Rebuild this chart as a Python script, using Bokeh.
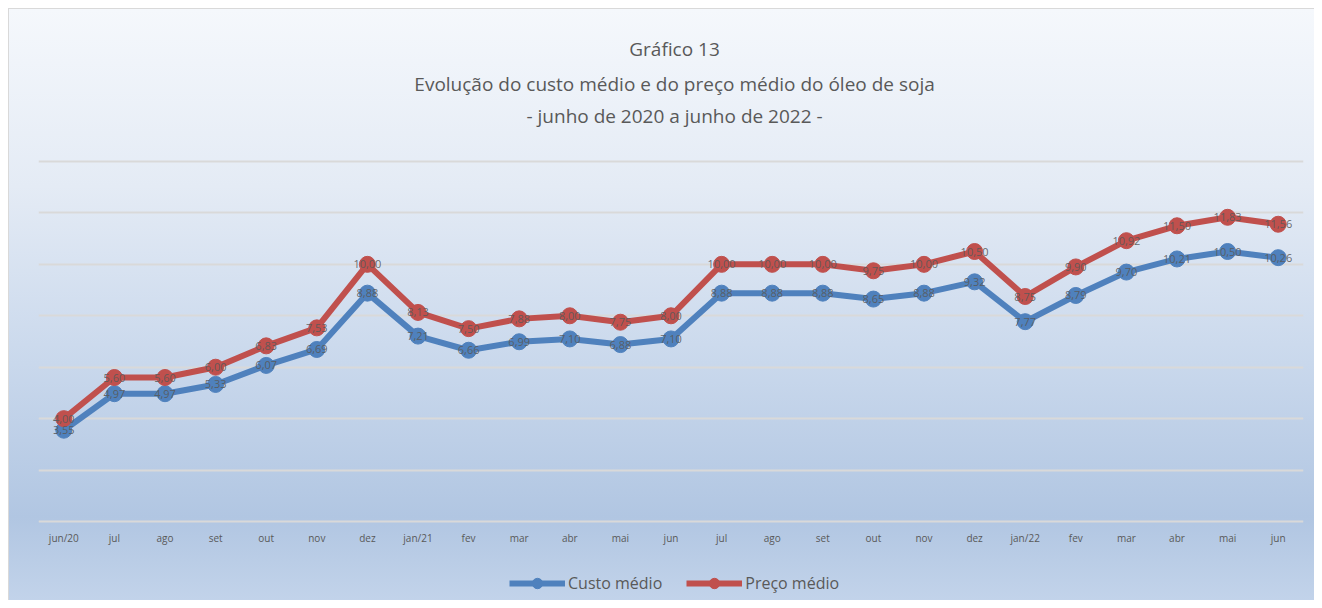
from bokeh.plotting import figure
from bokeh.models import (Range1d, FixedTicker, Legend, LegendItem, Label,
                          ColumnDataSource, InlineStyleSheet)
from bokeh.core.properties import value
from bokeh.embed import file_html
from bokeh.resources import INLINE

months = ["jun/20", "jul", "ago", "set", "out", "nov", "dez", "jan/21", "fev", "mar",
          "abr", "mai", "jun", "jul", "ago", "set", "out", "nov", "dez", "jan/22",
          "fev", "mar", "abr", "mai", "jun"]
custo = [3.55, 4.97, 4.97, 5.33, 6.07, 6.69, 8.88, 7.21, 6.66, 6.99, 7.10, 6.88, 7.10,
         8.88, 8.88, 8.88, 8.65, 8.88, 9.32, 7.77, 8.79, 9.70, 10.21, 10.50, 10.26]
preco = [4.00, 5.60, 5.60, 6.00, 6.83, 7.53, 10.00, 8.13, 7.50, 7.88, 8.00, 7.75, 8.00,
         10.00, 10.00, 10.00, 9.75, 10.00, 10.50, 8.75, 9.90, 10.92, 11.50, 11.83, 11.56]
y_ticks = [0, 2, 4, 6, 8, 10, 12, 14]
title_lines = ["Gráfico 13",
               "Evolução do custo médio e do preço médio do óleo de soja",
               "- junho de 2020 a junho de 2022 -"]

FONT = "Open Sans"
TXT = "#595959"
BLUE = "#4f81bd"
RED = "#c0504d"

xs = list(range(len(months)))

def fmt(v):
    return f"{v:.2f}".replace(".", ",")

src_c = ColumnDataSource(dict(x=xs, y=custo, lab=[fmt(v) for v in custo]))
src_p = ColumnDataSource(dict(x=xs, y=preco, lab=[fmt(v) for v in preco]))

W, H = 1314, 600
# plot area: y=0 at pixel 521, y=14 at pixel 161 (frame spans full height)
k = (521 - 161) / 14.0
y_lo = -(H - 521) / k
y_hi = 14 + 161 / k
ypix = lambda py: (521 - py) / k

p = figure(width=W, height=H, output_backend="svg", toolbar_location=None,
           x_range=Range1d(-0.5, len(months) - 0.5), y_range=Range1d(y_lo, y_hi),
           min_border_left=38, min_border_right=11, min_border_top=0,
           min_border_bottom=0)

css = """
:host {
  background:
    linear-gradient(to bottom, #f5f8fc 0%, #e4ebf5 30%, #c9d8ec 60%, #b1c6e2 86%, #c2d3ea 100%) 9px 9px / calc(100% - 9px) calc(100% - 9px) no-repeat,
    linear-gradient(#d9d9d9, #d9d9d9) 8px 8px / calc(100% - 8px) calc(100% - 8px) no-repeat,
    #ffffff;
}
"""
p.stylesheets = [InlineStyleSheet(css=css)]
p.border_fill_alpha = 0
p.background_fill_alpha = 0
p.outline_line_color = None

p.xaxis.visible = False
p.yaxis.visible = False
p.yaxis.ticker = FixedTicker(ticks=y_ticks)
p.ygrid.grid_line_color = "#d9d9d9"
p.ygrid.grid_line_width = 2
p.xgrid.visible = False

# category labels under the axis
p.text(xs, [ypix(537)] * len(xs), text=months, text_align="center",
       text_baseline="middle", text_font=value(FONT), text_font_size="10px",
       text_color=TXT)

# series
lc = p.line("x", "y", source=src_c, line_color=BLUE, line_width=6, line_join="round")
mc = p.scatter("x", "y", source=src_c, size=16, fill_color=BLUE, line_color=BLUE)
lp = p.line("x", "y", source=src_p, line_color=RED, line_width=6, line_join="round")
mp = p.scatter("x", "y", source=src_p, size=16, fill_color=RED, line_color=RED)

for src in (src_c, src_p):
    p.text("x", "y", text="lab", source=src, text_align="center",
           text_baseline="middle", text_font=value(FONT), text_font_size="11px",
           text_color=TXT, text_alpha=0.9)

# titles
for t, py in zip(title_lines, [48, 83, 115]):
    p.add_layout(Label(x=12.07, y=ypix(py), text=t, text_align="center",
                       text_baseline="middle", text_font=FONT,
                       text_font_size="19px", text_color=TXT))

legend = Legend(items=[LegendItem(label="Custo médio", renderers=[lc, mc]),
                       LegendItem(label="Preço médio", renderers=[lp, mp])],
                orientation="horizontal", location=(471, 4),
                background_fill_alpha=0, border_line_color=None,
                label_text_font=FONT, label_text_font_size="16px",
                label_text_color=TXT, glyph_width=56, glyph_height=26,
                spacing=24, label_standoff=3, padding=4, margin=0)
p.add_layout(legend, "center")

open("out.html", "w").write(file_html(p, INLINE))
